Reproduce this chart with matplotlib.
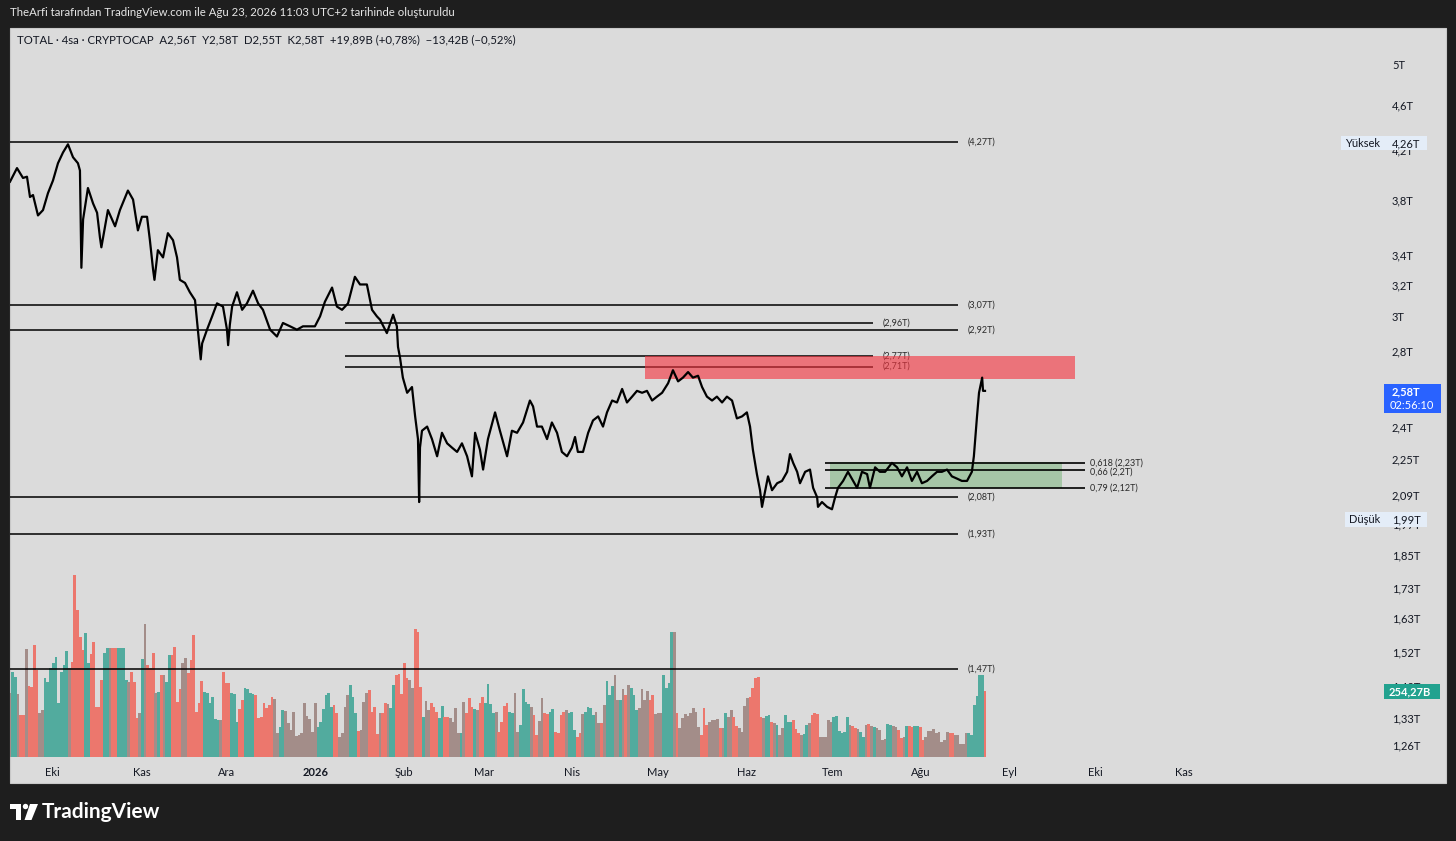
import numpy as np
import matplotlib
matplotlib.use("Agg")
import matplotlib.pyplot as plt
import matplotlib.dates as mdates
from matplotlib.patches import Rectangle, Ellipse, Polygon
from matplotlib.ticker import NullLocator
from datetime import datetime

plt.rcParams['font.family'] = ['Lato', 'DejaVu Sans']

# --- data ---
start = datetime(2025, 9, 16)

# days since start, TOTAL market cap in trillions
days = [0, 2.45, 4.55, 5.95, 7.0, 8.06, 9.8, 11.56, 13.3, 15.06, 16.8, 18.56, 20.3, 22.07, 23.8, 24.5, 25.0, 25.6,
        27.3, 29.1, 30.5, 31.5, 32.0, 33.3, 34.3, 36.8, 38.5, 41.3, 43.1, 44.8, 46.2, 48.0, 49.0, 50.1, 50.6, 51.8,
        53.6, 55.3, 57.1, 58.5, 59.5, 61.3, 63.0, 64.8, 65.8, 66.8, 67.3, 69.0, 70.8, 72.5, 74.6, 76.0, 76.4, 77.0,
        77.8, 79.5, 81.3, 83.0, 85.1, 86.9, 88.6, 91.1, 93.5, 95.6, 98.1, 100.5, 102.6, 105.1, 106.8, 108.6, 110.3,
        112.8, 114.5, 116.3, 118.4, 120.8, 122.6, 125.0, 126.8, 128.5,
        129.6, 132.0, 134.2, 135.5, 135.9, 136.6, 137.6, 139.1, 140.8, 141.9, 142.9, 143.3, 143.6, 144.3, 146.1,
        147.8, 149.6, 151.3, 153.1, 154.8, 156.6, 158.3, 160.1, 161.8, 162.9, 164.6, 165.7, 167.4, 169.9, 171.6,
        174.1, 175.8, 177.6, 179.7, 182.1, 183.2, 184.6, 186.3, 188.1, 189.8, 191.6, 193.3, 195.1, 196.8, 197.9,
        198.9, 200.7, 202.5, 204.2, 206.0, 207.7, 209.1, 210.9, 212.6, 214.4, 216.1, 217.9, 219.6, 221.4, 223.1,
        224.9, 226.6, 228.4, 230.5, 232.2, 234.0, 235.7, 237.5, 239.2, 241.0, 242.4, 244.1, 245.9, 247.6, 249.4,
        251.1, 252.9, 254.6,
        256.4, 258.1, 259.2, 260.2, 261.6, 262.7, 263.4, 264.4, 265.5, 266.9, 268.7, 270.4, 272.2, 273.2, 274.3,
        275.7, 276.7, 278.5, 280.2, 281.3, 282.7, 283.0, 284.4, 286.2, 287.9, 289.0, 290.0, 291.8, 293.5, 295.3,
        296.7, 298.4, 300.2, 301.2, 303.0, 304.7, 306.5, 308.9, 310.7, 312.4, 314.2, 315.9, 317.7, 319.4, 321.2,
        322.9, 324.7, 326.4, 328.2, 329.9, 331.7, 333.4, 335.2, 336.9, 337.6, 338.7, 339.4, 340.5, 340.8, 341.5]

price = [3.94, 4.05, 3.97, 3.98, 3.82, 3.835, 3.68, 3.72, 3.85, 3.95, 4.09, 4.18, 4.25, 4.14, 4.09, 4.03, 3.31, 3.65,
         3.89, 3.77, 3.70, 3.52, 3.45, 3.60, 3.72, 3.60, 3.72, 3.87, 3.80, 3.57, 3.67, 3.67, 3.50, 3.30, 3.23, 3.43,
         3.38, 3.55, 3.50, 3.38, 3.23, 3.21, 3.15, 3.10, 2.92, 2.75, 2.84, 2.92, 3.00, 3.08, 3.06, 2.92, 2.83, 2.95,
         3.06, 3.15, 3.04, 3.08, 3.16, 3.08, 3.04, 2.92, 2.88, 2.96, 2.94, 2.92, 2.94, 2.94, 2.94, 3.00, 3.09,
         3.18, 3.06, 3.04, 3.08, 3.25, 3.20, 3.20, 3.04, 3.00,
         2.98, 2.90, 3.01, 2.94, 2.82, 2.76, 2.65, 2.57, 2.60, 2.45, 2.34, 2.06, 2.30, 2.38, 2.40,
         2.34, 2.26, 2.37, 2.32, 2.30, 2.28, 2.32, 2.26, 2.17, 2.37, 2.29, 2.20, 2.34, 2.47, 2.38,
         2.26, 2.38, 2.37, 2.42, 2.53, 2.50, 2.40, 2.40, 2.34, 2.42, 2.37, 2.28, 2.26, 2.30, 2.35,
         2.28, 2.28, 2.37, 2.43, 2.45, 2.40, 2.47, 2.53, 2.52, 2.59, 2.52, 2.55, 2.58, 2.57, 2.58,
         2.53, 2.55, 2.57, 2.62, 2.69, 2.63, 2.65, 2.68, 2.65, 2.66, 2.60, 2.55, 2.53, 2.55, 2.52,
         2.55, 2.53, 2.44,
         2.45, 2.47, 2.40, 2.29, 2.18, 2.11, 2.04, 2.10, 2.17, 2.11, 2.14, 2.15, 2.19, 2.27, 2.23,
         2.19, 2.14, 2.19, 2.20, 2.12, 2.08, 2.04, 2.06, 2.04, 2.03, 2.08, 2.12, 2.15, 2.19, 2.15,
         2.12, 2.19, 2.18, 2.12, 2.21, 2.19, 2.19, 2.23, 2.21, 2.17, 2.21, 2.15, 2.19, 2.14, 2.15,
         2.17, 2.19, 2.19, 2.20, 2.17, 2.16, 2.15, 2.15, 2.19, 2.26, 2.45, 2.57, 2.65, 2.58, 2.58]

# volume in billions, one bar per slot from the first to the last day
volume = [246, 327, 308, 243, 162, 162, 416, 273, 270, 431,
          335, 169, 181, 304, 289, 343, 362, 385, 208, 327,
          354, 408, 343, 366, 701, 566, 462, 412, 477, 362,
          397, 443, 193, 193, 296, 400, 420, 420, 420, 420,
          420, 420, 420, 296, 289, 327, 289, 150, 169, 377,
          512, 354, 343, 400, 246, 250, 316, 316, 289, 393,
          393, 424, 212, 262, 362, 381, 323, 373, 470, 173,
          208, 293, 250, 246, 208, 231, 146, 142, 142, 327,
          285, 285, 246, 243, 135, 185, 219, 266, 262, 246,
          243, 239, 150, 154, 208, 189, 200, 231, 223, 92,
          116, 181, 177, 131, 104, 173, 81, 85, 92, 208,
          158, 146, 96, 208, 116, 135, 185, 239, 246, 193,
          200, 169, 77, 92, 193, 239, 277, 231, 169, 100,
          104, 212, 246, 258, 173, 193, 89, 169, 169, 208,
          204, 189, 277, 316, 320, 243, 362, 304, 296, 266,
          493, 481, 270, 154, 216, 181, 208, 193, 173, 150,
          196, 154, 154, 150, 135, 189, 92, 92, 212, 169,
          227, 193, 185, 181, 208, 231, 208, 281, 204, 169,
          173, 96, 135, 196, 208, 173, 169, 246, 96, 123,
          262, 212, 204, 193, 162, 85, 139, 227, 169, 166,
          173, 185, 96, 92, 162, 173, 181, 169, 173, 104,
          77, 92, 166, 173, 193, 189, 162, 173, 131, 131,
          200, 293, 239, 273, 316, 219, 219, 262, 239, 277,
          266, 239, 181, 189, 262, 219, 254, 219, 239, 166,
          169, 169, 316, 266, 285, 481, 481, 169, 112, 150,
          166, 158, 169, 189, 173, 116, 85, 189, 123, 135,
          142, 142, 146, 112, 112, 169, 154, 181, 154, 119,
          112, 96, 196, 227, 231, 266, 304, 308, 154, 150,
          158, 162, 135, 131, 123, 85, 112, 162, 135, 135,
          142, 108, 92, 85, 89, 123, 131, 162, 169, 166,
          77, 77, 77, 142, 135, 154, 158, 100, 92, 96,
          154, 123, 119, 112, 108, 96, 77, 123, 127, 119,
          116, 112, 104, 65, 69, 127, 123, 119, 116, 104,
          73, 77, 119, 119, 116, 119, 119, 116, 65, 77,
          100, 100, 108, 92, 96, 58, 65, 96, 92, 92,
          85, 85, 50, 50, 92, 92, 85, 200, 235, 316,
          316, 254]

long_levels = [4.27, 3.07, 2.92, 2.08, 1.93, 1.47]
short_levels = [2.96, 2.77, 2.71]
fib_ratios = ['0,618', '0,66', '0,79']
fib_levels = [2.23, 2.20, 2.12]
red_zone = (2.64, 2.77)
green_zone = (2.12, 2.235)

month_dates = [datetime(2025, 10, 1), datetime(2025, 11, 1), datetime(2025, 12, 1), datetime(2026, 1, 1),
               datetime(2026, 2, 1), datetime(2026, 3, 1), datetime(2026, 4, 1), datetime(2026, 5, 1),
               datetime(2026, 6, 1), datetime(2026, 7, 1), datetime(2026, 8, 1), datetime(2026, 9, 1),
               datetime(2026, 10, 1), datetime(2026, 11, 1)]
month_labels = ['Eki', 'Kas', 'Ara', '2026', 'Şub', 'Mar', 'Nis', 'May', 'Haz', 'Tem', 'Ağu', 'Eyl', 'Eki', 'Kas']

price_ticks = [5, 4.6, 4.2, 3.8, 3.4, 3.2, 3.0, 2.8, 2.6, 2.4, 2.25, 2.09, 1.97, 1.85, 1.73, 1.63, 1.52, 1.42,
               1.33, 1.26]

header = "TheArfi tarafından TradingView.com ile Ağu 23, 2026 11:03 UTC+2 tarihinde oluşturuldu"
legend = ("TOTAL · 4sa · CRYPTOCAP  A2,56T  Y2,58T  D2,55T  K2,58T  +19,89B (+0,78%)  −13,42B (−0,52%)")

# --- figure ---
W, H = 1456, 841
BG = '#1e1e1e'
PANEL = '#dbdbdb'
INK = '#131722'


def fx(x):
    return x / W


def fy(y):
    return 1 - y / H


def tr(v):
    return f"{v:g}".replace('.', ',')


fig = plt.figure(figsize=(W / 100, H / 100), dpi=100, facecolor=BG)
fig.patches.append(Rectangle((fx(10), fy(783)), fx(1446) - fx(10), fy(28) - fy(783),
                             transform=fig.transFigure, facecolor=PANEL, edgecolor='#c8c8c8',
                             lw=0.8, zorder=-5))

rect = [fx(10), fy(757), fx(1385) - fx(10), fy(28) - fy(757)]
ax_vol = fig.add_axes(rect)
ax = fig.add_axes(rect)
ax_vol.set_zorder(1)
ax.set_zorder(2)
ax.patch.set_alpha(0)
ax_vol.patch.set_alpha(0)

t0 = mdates.date2num(start)
x = t0 + np.array(days)
xlim = (t0, t0 + 481.6)

# volume: teal when the price rose over the slot, red when it fell, mauve when flat
n = len(volume)
vx = np.linspace(days[0], days[-1], n)
step = vx[1] - vx[0]
p_now = np.interp(vx, days, price)
p_prev = np.interp(vx - step, days, price)
chg = p_now / p_prev - 1
colors = ['#52ab9e' if c > 0.006 else '#ec776d' if c < -0.006 else '#a38d89' for c in chg]
ax_vol.bar(t0 + vx, volume, width=step * 1.02, color=colors, linewidth=0)
ax_vol.set_xlim(*xlim)
ax_vol.set_ylim(0, 2808)
ax_vol.axis('off')

# price
ax.set_yscale('log')
ax.set_xlim(*xlim)
ax.set_ylim(1.2295, 5.378)

ax.plot(x, price, color='black', lw=1.6, zorder=6)

x_long = (t0, t0 + 332.0)
x_short = (t0 + 117.3, t0 + 302.3)
x_fib = (t0 + 285.5, t0 + 376.5)

ax.hlines(long_levels, *x_long, colors='black', lw=1.1, zorder=3)
for v in long_levels:
    ax.text(t0 + 335.5, v, f"({tr(v)}T)", fontsize=6.5, color='#2a2a2a', va='center', zorder=3)
ax.hlines(short_levels, *x_short, colors='black', lw=1.1, zorder=3)
for v in short_levels:
    ax.text(t0 + 305.8, v, f"({tr(v)}T)", fontsize=6.5, color='#2a2a2a', va='center', zorder=3)
ax.hlines(fib_levels, *x_fib, colors='black', lw=1.2, zorder=3)
fib_offsets = [0.0, -0.006, 0.0]
for r, v, o in zip(fib_ratios, fib_levels, fib_offsets):
    ax.text(t0 + 378.3, v * (1 + o), f"{r} ({tr(v)}T)", fontsize=6.5, color='#2a2a2a', va='center', zorder=3)

ax.add_patch(Rectangle((t0 + 222.4, red_zone[0]), 150.6, red_zone[1] - red_zone[0],
                       facecolor='#f5343f', alpha=0.62, lw=0, zorder=4))
ax.add_patch(Rectangle((t0 + 287.2, green_zone[0]), 81.3, green_zone[1] - green_zone[0],
                       facecolor='#43a047', alpha=0.35, lw=0, zorder=2))

ax.set_xticks(mdates.date2num(month_dates))
ax.set_xticklabels(month_labels)
for lab in ax.get_xticklabels():
    if lab.get_text() == '2026':
        lab.set_fontweight('bold')
ax.tick_params(axis='x', length=0, pad=7, labelsize=8, labelcolor=INK)

ax.yaxis.tick_right()
ax.set_yticks(price_ticks)
ax.set_yticklabels([tr(v) + 'T' for v in price_ticks])
ax.yaxis.set_minor_locator(NullLocator())
ax.tick_params(axis='y', which='both', length=0, pad=5, labelsize=8, labelcolor=INK)
for s in ax.spines.values():
    s.set_visible(False)

# --- texts and price-scale badges ---
fig.text(fx(10), fy(13), header, color='#e6e6e6', fontsize=8.2, va='center')
fig.text(fx(17), fy(40), legend, color=INK, fontsize=8.2, va='center')


def badge(x0, y0, x1, y1, color):
    fig.patches.append(Rectangle((fx(x0), fy(y1)), fx(x1) - fx(x0), fy(y0) - fy(y1),
                                 transform=fig.transFigure, facecolor=color, lw=0, zorder=5))


badge(1341, 136, 1427, 150, '#e4edf8')
fig.text(fx(1345), fy(143.5), 'Yüksek', fontsize=8, color=INK, va='center', zorder=6)
fig.text(fx(1392), fy(143.5), '4,26T', fontsize=8, color=INK, va='center', zorder=6)

badge(1345, 512, 1427, 527, '#e4edf8')
fig.text(fx(1349), fy(519.5), 'Düşük', fontsize=8, color=INK, va='center', zorder=6)
fig.text(fx(1392), fy(519.5), '1,99T', fontsize=8, color=INK, va='center', zorder=6)

badge(1384, 384, 1441, 413, '#2962ff')
fig.text(fx(1392), fy(391.5), '2,58T', fontsize=8, color='white', va='center', zorder=6, fontweight='bold')
fig.text(fx(1390), fy(405.5), '02:56:10', fontsize=8, color='white', va='center', zorder=6)

badge(1384, 684, 1440, 699, '#22a28f')
fig.text(fx(1389), fy(691.5), '254,27B', fontsize=8, color='white', va='center', zorder=6, fontweight='bold')

# TradingView logo
logo_kw = dict(transform=fig.transFigure, facecolor='white', lw=0, zorder=5)
fig.patches.append(Rectangle((fx(10), fy(809)), fx(21) - fx(10), fy(804) - fy(809), **logo_kw))
fig.patches.append(Rectangle((fx(15.5), fy(820)), fx(21) - fx(15.5), fy(804) - fy(820), **logo_kw))
fig.patches.append(Ellipse((fx(25.5), fy(806.5)), 5.4 / W, 5.4 / H, **logo_kw))
fig.patches.append(Polygon([(fx(30), fy(804)), (fx(38), fy(804)), (fx(31.5), fy(820)), (fx(24.5), fy(820))],
                           closed=True, **logo_kw))
fig.text(fx(42), fy(812), 'TradingView', fontsize=15, color='white', fontweight='bold', va='center')

fig.savefig('out.png', dpi=100, facecolor=BG)
